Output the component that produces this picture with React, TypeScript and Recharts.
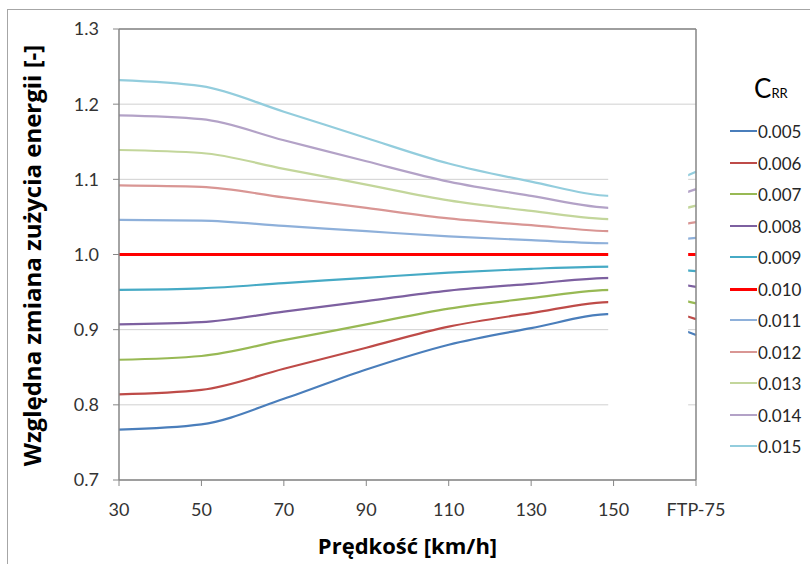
import React from "react";
import {
  LineChart,
  Line,
  XAxis,
  YAxis,
  CartesianGrid,
  ReferenceLine,
  ReferenceArea,
} from "recharts";

// Speeds (km/h); the last category is the FTP-75 cycle
const speeds = [30, 50, 70, 90, 110, 130, 150, 170];
const tickLabels = ["30", "50", "70", "90", "110", "130", "150", "FTP-75"];
const yTicks = [0.7, 0.8, 0.9, 1.0, 1.1, 1.2, 1.3];

// Relative change of energy consumption for each rolling-resistance coefficient
const crr005 = [0.767, 0.774, 0.808, 0.847, 0.88, 0.902, 0.921, 0.893];
const crr006 = [0.814, 0.82, 0.848, 0.876, 0.904, 0.922, 0.937, 0.914];
const crr007 = [0.86, 0.865, 0.886, 0.907, 0.928, 0.942, 0.953, 0.935];
const crr008 = [0.907, 0.91, 0.924, 0.938, 0.952, 0.961, 0.969, 0.957];
const crr009 = [0.953, 0.955, 0.962, 0.969, 0.976, 0.981, 0.984, 0.978];
const crr010 = [1.0, 1.0, 1.0, 1.0, 1.0, 1.0, 1.0, 1.0];
const crr011 = [1.046, 1.045, 1.038, 1.031, 1.024, 1.019, 1.015, 1.022];
const crr012 = [1.092, 1.09, 1.076, 1.062, 1.048, 1.039, 1.031, 1.043];
const crr013 = [1.139, 1.135, 1.114, 1.093, 1.072, 1.058, 1.047, 1.065];
const crr014 = [1.185, 1.18, 1.152, 1.124, 1.097, 1.078, 1.062, 1.087];
const crr015 = [1.232, 1.224, 1.19, 1.155, 1.121, 1.097, 1.078, 1.11];

const seriesNames = [
  "0.005", "0.006", "0.007", "0.008", "0.009", "0.010",
  "0.011", "0.012", "0.013", "0.014", "0.015",
];
const seriesValues = [
  crr005, crr006, crr007, crr008, crr009, crr010,
  crr011, crr012, crr013, crr014, crr015,
];
const seriesColors = [
  "#4a7ebb", "#be4b48", "#98b954", "#7d60a0", "#46aac5", "#ff0000",
  "#8eb0da", "#d99694", "#c3d69b", "#b3a2c7", "#93cddd",
];
const seriesWidths = [2.2, 2.2, 2.2, 2.2, 2.2, 3, 2.2, 2.2, 2.2, 2.2, 2.2];
const legendWidths = [2, 2, 2, 2, 2, 3, 2, 2, 2, 2, 2];

// white panel that hides the link between 150 km/h and FTP-75 (in data units)
const maskX = [148.7, 168.1];
const maskY = [0.715, 1.19];

const data = speeds.map((s, i) => {
  const row: Record<string, number> = { speed: s };
  seriesNames.forEach((n, k) => {
    row[n] = seriesValues[k][i];
  });
  return row;
});

const FONT = "Lato, 'Open Sans', 'DejaVu Sans', sans-serif";
const TITLE_FONT = "'Open Sans', Lato, 'DejaVu Sans', sans-serif";

const YTitle = (props: any) => {
  const vb = props.viewBox || { x: 0, y: 29, width: 119, height: 451 };
  const cx = vb.x + 31;
  const cy = vb.y + vb.height / 2 + 1;
  return (
    <text
      x={cx}
      y={cy}
      transform={`rotate(-90 ${cx} ${cy})`}
      textAnchor="middle"
      dominantBaseline="central"
      style={{ fontFamily: TITLE_FONT, fontWeight: 700, fontSize: 24, fill: "#000" }}
    >
      Względna zmiana zużycia energii [-]
    </text>
  );
};

const XTitle = (props: any) => {
  const vb = props.viewBox || { x: 119, y: 480, width: 577, height: 84 };
  const cx = vb.x + vb.width / 2;
  return (
    <text
      x={cx}
      y={vb.y + 65}
      textAnchor="middle"
      dominantBaseline="central"
      style={{ fontFamily: TITLE_FONT, fontWeight: 700, fontSize: 22, fill: "#000" }}
    >
      Prędkość [km/h]
    </text>
  );
};

export default function App() {
  return (
    <div
      style={{
        position: "absolute",
        left: 0,
        top: 0,
        width: 810,
        height: 564,
        background: "#fff",
        overflow: "hidden",
        fontFamily: FONT,
      }}
    >
      <div
        style={{
          position: "absolute",
          left: 7,
          top: 9,
          width: 820,
          height: 580,
          borderLeft: "1px solid #a6a6a6",
          borderTop: "1px solid #a6a6a6",
        }}
      />
      <div style={{ position: "absolute", left: 0, top: 0 }}>
        <LineChart
          width={810}
          height={564}
          data={data}
          margin={{ top: 29, right: 114, bottom: 0, left: 0 }}
        >
          <CartesianGrid
            horizontal={true}
            vertical={false}
            stroke="#d0d0d0"
            strokeWidth={1}
          />
          <XAxis
            dataKey="speed"
            type="number"
            domain={[30, 170]}
            ticks={speeds}
            interval={0}
            height={84}
            tickFormatter={(v: number) => tickLabels[speeds.indexOf(v)]}
            tickSize={6}
            tickMargin={17}
            axisLine={{ stroke: "#868686", strokeWidth: 1.5 }}
            tickLine={{ stroke: "#868686" }}
            tick={{ fontFamily: FONT, fontSize: 18, fill: "#333" }}
            label={<XTitle />}
          />
          <YAxis
            type="number"
            domain={[0.7, 1.3]}
            ticks={yTicks}
            interval={0}
            width={119}
            tickFormatter={(v: number) => v.toFixed(1)}
            tickSize={6}
            tickMargin={14}
            axisLine={{ stroke: "#868686", strokeWidth: 1.5 }}
            tickLine={{ stroke: "#868686" }}
            tick={{ fontFamily: FONT, fontSize: 18, fill: "#333" }}
            label={<YTitle />}
          />
          {seriesNames.map((n, k) => (
            <Line
              key={n}
              type="monotone"
              dataKey={n}
              stroke={seriesColors[k]}
              strokeWidth={seriesWidths[k]}
              dot={false}
              activeDot={false}
              isAnimationActive={false}
            />
          ))}
          <ReferenceArea
            x1={maskX[0]}
            x2={maskX[1]}
            y1={maskY[0]}
            y2={maskY[1]}
            fill="#ffffff"
            fillOpacity={1}
            stroke="none"
            zIndex={1000}
          />
          <ReferenceLine y={1.3} stroke="#868686" strokeWidth={1.5} zIndex={1100} />
          <ReferenceLine x={170} stroke="#868686" strokeWidth={1.5} zIndex={1100} />
        </LineChart>
      </div>
      <div
        style={{
          position: "absolute",
          left: 754,
          top: 75,
          color: "#000",
          whiteSpace: "nowrap",
          lineHeight: 1,
        }}
      >
        <span style={{ fontSize: 26 }}>C</span>
        <span style={{ fontSize: 13 }}>RR</span>
      </div>
      {seriesNames.map((n, k) => (
        <div
          key={n}
          style={{
            position: "absolute",
            left: 730,
            top: Math.round(131 + k * 31.5) - 10,
            height: 20,
            display: "flex",
            alignItems: "center",
            whiteSpace: "nowrap",
          }}
        >
          <div
            style={{
              width: 27,
              height: legendWidths[k],
              background: seriesColors[k],
            }}
          />
          <span style={{ fontSize: 17, color: "#262626", marginLeft: 1 }}>{n}</span>
        </div>
      ))}
    </div>
  );
}
